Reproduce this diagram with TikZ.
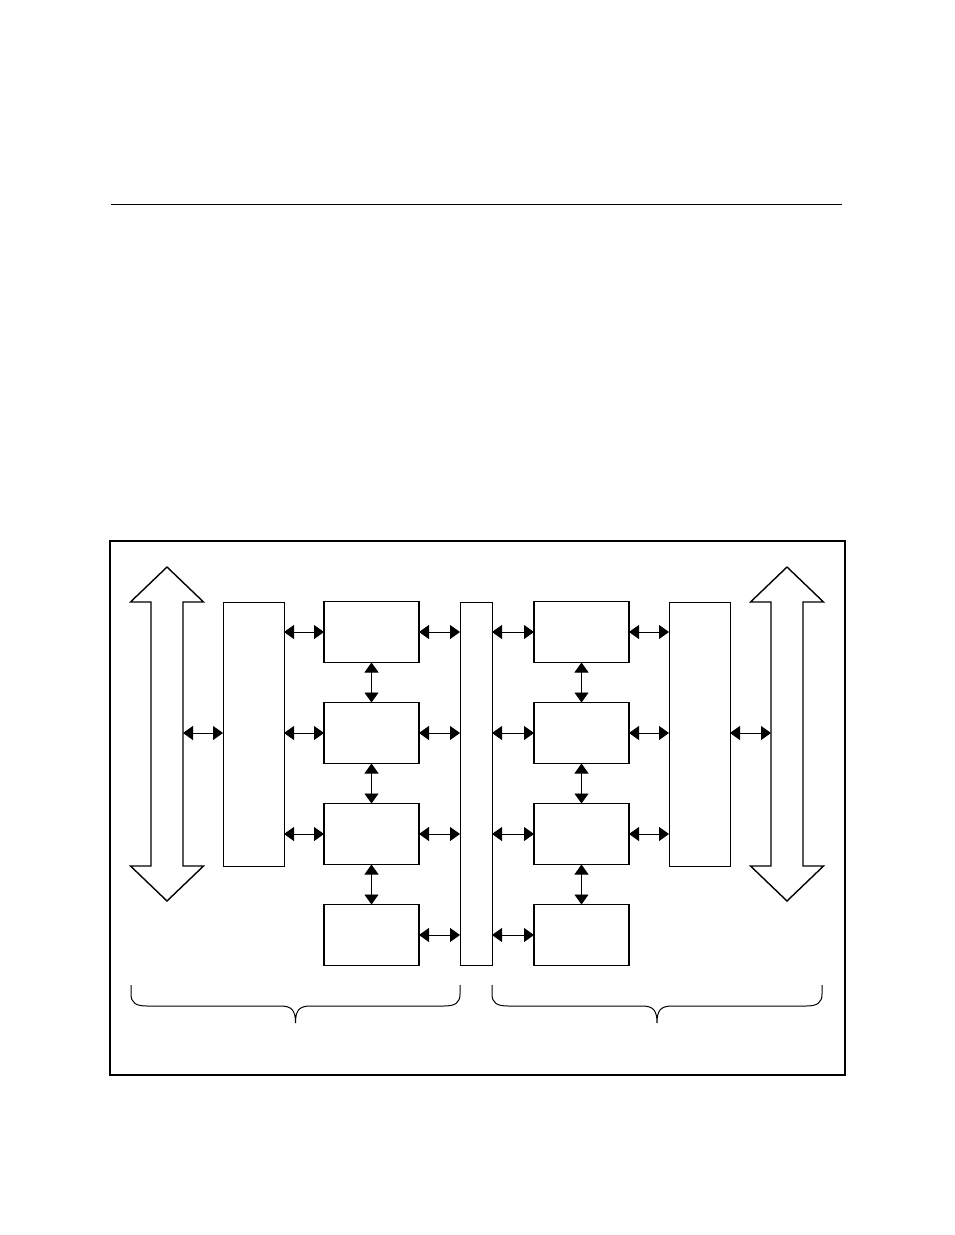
\documentclass[tikz,border=0pt]{standalone}
\usetikzlibrary{arrows.meta,calc}
\tikzset{>={Triangle[length=10pt,width=14pt]}}
\tikzstyle{unit}=[rectangle,draw=black,line width=1.4pt,minimum width=95pt,minimum height=61pt,inner sep=0pt,outer sep=0pt]
\tikzstyle{buffer}=[rectangle,draw=black,line width=0.9pt,minimum width=61pt,minimum height=264pt,inner sep=0pt,outer sep=0pt]
\tikzstyle{bus}=[rectangle,draw=black,line width=0.9pt,minimum width=32pt,minimum height=363pt,inner sep=0pt,outer sep=0pt]
\tikzstyle{link}=[<->,line width=0.9pt]
\tikzstyle{bigarrow}=[draw=black,line width=1.4pt,line join=miter]

\begin{document}
\begin{tikzpicture}[x=1pt,y=-1pt]
\def \rowsep {101};
\def \top {632};
\def \headw {36.5};
\def \shaftw {16};

\useasboundingbox (0,0) rectangle (954,1235);

\draw[line width=0.8pt] (111,204) -- (842,204);
\draw[line width=1.5pt] (110,541) rectangle (845,1075);

\foreach \i in {1,...,4} {
	\node[unit] (L\i) at (371.5, \top + \rowsep*\i - \rowsep) {};
	\node[unit] (R\i) at (581.5, \top + \rowsep*\i - \rowsep) {};
};

\node[buffer] (Lbuf) at (253.5,734) {};
\node[buffer] (Rbuf) at (699.5,734) {};
\node[bus] (bus) at (476,783.5) {};

% wide double arrows at both sides
\foreach \cx in {167,787} {
	\draw[bigarrow] (\cx,567) -- (\cx+\headw,602) -- (\cx+\shaftw,602) -- (\cx+\shaftw,866)
	-- (\cx+\headw,866) -- (\cx,901) -- (\cx-\headw,866) -- (\cx-\shaftw,866)
	-- (\cx-\shaftw,602) -- (\cx-\headw,602) -- cycle;
};
\coordinate (lport) at (167+\shaftw,733);
\coordinate (rport) at (787-\shaftw,733);

\draw[link] (lport) -- (Lbuf.west |- lport);
\draw[link] (Rbuf.east |- rport) -- (rport);

\foreach \i in {1,...,3} {
	\pgfmathtruncatemacro{\j}{\i + 1};
	\draw[link] (Lbuf.east |- L\i) -- (L\i.west);
	\draw[link] (R\i.east) -- (Rbuf.west |- R\i);
	\draw[link] (L\i.south) -- (L\j.north);
	\draw[link] (R\i.south) -- (R\j.north);
};

\foreach \i in {1,...,4} {
	\draw[link] (L\i.east) -- (bus.west |- L\i);
	\draw[link] (bus.east |- R\i) -- (R\i.west);
};

% braces under the two halves
\foreach \a/\b in {131/460,492/822} {
	\pgfmathsetmacro{\m}{(\a+\b)/2};
	\draw[line width=1pt] (\a,985) -- (\a,994) .. controls (\a,1003) and (\a+5,1006) .. (\a+16,1006)
	-- (\m-15,1006) .. controls (\m-4,1006) and (\m,1010) .. (\m,1023)
	.. controls (\m,1010) and (\m+4,1006) .. (\m+15,1006)
	-- (\b-16,1006) .. controls (\b-5,1006) and (\b,1003) .. (\b,994) -- (\b,985);
};

\end{tikzpicture}
\end{document}
